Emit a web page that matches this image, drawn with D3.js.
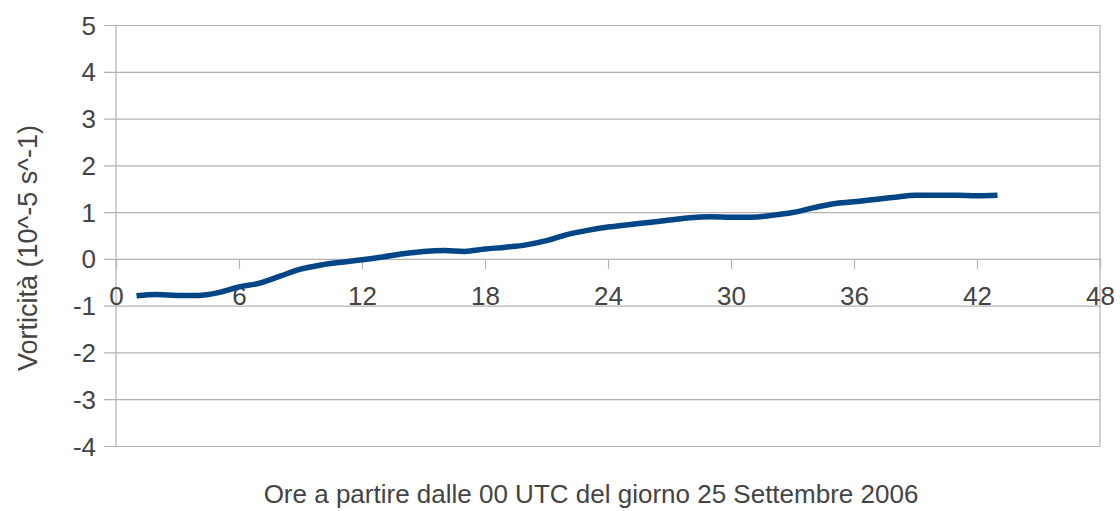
<!DOCTYPE html>
<html>
<head>
<meta charset="utf-8">
<script src="https://cdn.jsdelivr.net/npm/d3@7"></script>
<style>
  html, body { margin: 0; padding: 0; background: #fff; }
  svg { display: block; }
  text { font-family: "Liberation Sans", Arial, sans-serif; fill: #444; }
</style>
</head>
<body>
<svg id="chart" width="1120" height="511"></svg>
<script>
// Hourly relative vorticity (10^-5 s^-1), hours from 00 UTC 25 Sept 2006
const hours = d3.range(1, 44);
const vorticity = [
  -0.79, -0.76, -0.78, -0.78, -0.72, -0.60, -0.52, -0.37, -0.22, -0.13,
  -0.07, -0.02,  0.04,  0.11,  0.16,  0.18,  0.16,  0.21,  0.25,  0.30,
   0.39,  0.52,  0.61,  0.68,  0.73,  0.78,  0.83,  0.88,  0.90,  0.89,
   0.89,  0.93,  0.99,  1.09,  1.18,  1.22,  1.27,  1.32,  1.36,  1.36,
   1.36,  1.35,  1.36
];
const xTicks = [0, 6, 12, 18, 24, 30, 36, 42, 48];
const yTicks = [5, 4, 3, 2, 1, 0, -1, -2, -3, -4];
const xTitle = "Ore a partire dalle 00 UTC del giorno 25 Settembre 2006";
const yTitle = "Vorticità (10^-5 s^-1)";

const svg = d3.select("#chart");
const plotLeft = 116, plotRight = 1100, plotTop = 25, plotBottom = 446;
const grid = "#b3b3b3";
const tickFont = "26px";
const plain = d => String(d); // hyphen-minus for negatives

const x = d3.scaleLinear().domain([0, 48]).range([plotLeft, plotRight]);
const y = d3.scaleLinear().domain([-4, 5]).range([plotBottom, plotTop]);

// horizontal gridlines with outward ticks and labels on the left
const yAxis = d3.axisLeft(y).tickValues(yTicks).tickSize(0).tickFormat(plain);
const gy = svg.append("g").attr("transform", `translate(${plotRight},0)`).call(yAxis);
gy.select(".domain").remove();
gy.selectAll(".tick line").attr("stroke", grid).attr("stroke-width", 1.2)
  .attr("x1", 0).attr("x2", -(plotRight - plotLeft) - 12);
gy.selectAll(".tick text")
  .attr("x", -(plotRight - plotLeft) - 20)
  .attr("dy", "0.35em")
  .style("font-size", tickFont)
  .style("fill", "#444");

// plot frame: left axis and right border
svg.append("line").attr("x1", plotLeft).attr("x2", plotLeft).attr("y1", plotTop).attr("y2", plotBottom)
  .attr("stroke", grid).attr("stroke-width", 1.2);
svg.append("line").attr("x1", plotRight).attr("x2", plotRight).attr("y1", plotTop).attr("y2", plotBottom)
  .attr("stroke", grid).attr("stroke-width", 1.2);

// x axis drawn along zero
const xAxis = d3.axisBottom(x).tickValues(xTicks).tickSize(10).tickFormat(plain);
const gx = svg.append("g").attr("transform", `translate(0,${y(0)})`).call(xAxis);
gx.select(".domain").remove();
gx.selectAll(".tick line").attr("stroke", grid).attr("stroke-width", 1.2);
gx.selectAll(".tick text")
  .attr("y", 46)
  .attr("dy", "0")
  .style("font-size", tickFont)
  .style("fill", "#444");

// vorticity line
const line = d3.line().x((d, i) => x(hours[i])).y(d => y(d)).curve(d3.curveMonotoneX);
svg.append("path")
  .datum(vorticity)
  .attr("d", line)
  .attr("fill", "none")
  .attr("stroke", "#004586")
  .attr("stroke-width", 5.5)
  .attr("stroke-linejoin", "round");

// axis titles
svg.append("text")
  .attr("x", 591)
  .attr("y", 503)
  .attr("text-anchor", "middle")
  .style("font-size", "26px")
  .text(xTitle);

svg.append("text")
  .attr("transform", "translate(37,248) rotate(-90)")
  .attr("text-anchor", "middle")
  .style("font-size", "27px")
  .text(yTitle);
</script>
</body>
</html>
